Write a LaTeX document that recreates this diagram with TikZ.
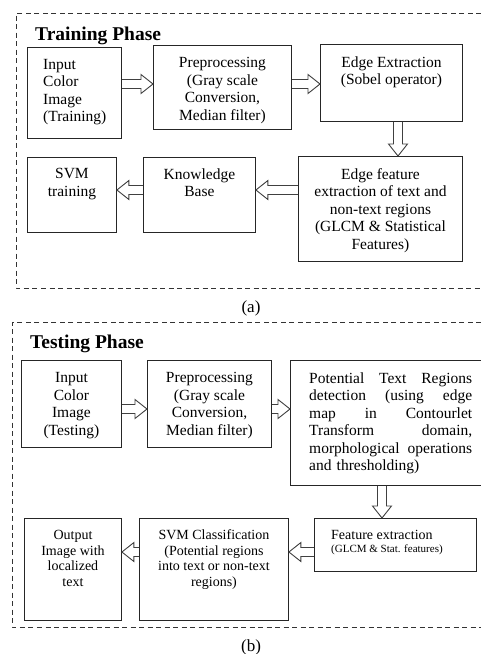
\documentclass[tikz,border=0pt]{standalone}
\usepackage{fontspec}
\setmainfont{Liberation Serif}
\usetikzlibrary{positioning, calc}
\tikzset{
  % Box styles
  procbox/.style={rectangle, draw=black!85, line width=0.9pt, anchor=north west, inner sep=0pt},
  boxtext/.style={inner sep=0pt, align=center, font=\fontsize{15.5}{17.5}\selectfont},
  smalltext/.style={inner sep=0pt, align=center, font=\fontsize{14}{15.5}\selectfont},
  phasetitle/.style={anchor=base west, inner sep=0pt, font=\bfseries\fontsize{19.5}{22}\selectfont},
  captiontext/.style={anchor=base, inner sep=0pt, font=\fontsize{17}{20}\selectfont},
  % Frame and arrow styles
  phaseframe/.style={draw=black!80, line width=0.8pt, dash pattern=on 5pt off 3.5pt},
  hollowarrow/.style={draw=black!75, line width=0.9pt, to path={
    ($(\tikztostart)!4.5pt!90:(\tikztotarget)$)
    -- ($(\tikztotarget)!12pt!(\tikztostart)!4.5pt!-90:(\tikztostart)$)
    -- ($(\tikztotarget)!12pt!(\tikztostart)!9.5pt!-90:(\tikztostart)$)
    -- (\tikztotarget)
    -- ($(\tikztotarget)!12pt!(\tikztostart)!9.5pt!90:(\tikztostart)$)
    -- ($(\tikztotarget)!12pt!(\tikztostart)!4.5pt!90:(\tikztostart)$)
    -- ($(\tikztostart)!4.5pt!-90:(\tikztotarget)$) \tikztonodes}}
}

\begin{document}
\begin{tikzpicture}[x=1pt, y=-1pt]
  \useasboundingbox (0,0) rectangle (481,654);
  \clip (0,0) rectangle (481,654);
  \fill[white] (0,0) rectangle (481,654);

  % Training phase
  \draw[phaseframe] (481,13) -- (16,13) -- (16,288) -- (481,288);
  \node[phasetitle] (trtitle) at (35,40) {Training Phase};

  \node[procbox, minimum width=94pt, minimum height=91pt] (trin) at (27,47) {};
  \node[procbox, minimum width=138pt, minimum height=84pt] (trpre) at (153,45) {};
  \node[procbox, minimum width=142pt, minimum height=77pt] (tredge) at (320,44) {};
  \node[procbox, minimum width=89pt, minimum height=75pt] (trsvm) at (27,157) {};
  \node[procbox, minimum width=112pt, minimum height=75pt] (trkb) at (143,157) {};
  \node[procbox, minimum width=164pt, minimum height=105pt] (trfeat) at (298,156) {};

  \node[boxtext, align=left, below right=12pt and 16pt of trin.north west] (trintext) {Input\\Color\\Image\\(Training)};
  \node[boxtext, below=12.5pt of trpre.north] (trpretext) {Preprocessing\\(Gray scale\\Conversion,\\Median filter)};
  \node[boxtext, below=12.5pt of tredge.north] (tredgetext) {Edge Extraction\\(Sobel operator)};
  \node[boxtext, below=11.5pt of trsvm.north] (trsvmtext) {SVM\\training};
  \node[boxtext, below=11.5pt of trkb.north] (trkbtext) {Knowledge\\Base};
  \node[boxtext, below=12pt of trfeat.north] (trfeattext) {Edge feature\\extraction of text and\\non-text regions\\(GLCM \& Statistical\\Features)};

  \coordinate (trrowa) at (0,84);
  \coordinate (trrowb) at (0,190);
  \coordinate (trdown) at (398,0);
  \draw[hollowarrow] (trin.east |- trrowa) to (trpre.west |- trrowa);
  \draw[hollowarrow] (trpre.east |- trrowa) to (tredge.west |- trrowa);
  \draw[hollowarrow] (tredge.south -| trdown) to (trfeat.north -| trdown);
  \draw[hollowarrow] (trfeat.west |- trrowb) to (trkb.east |- trrowb);
  \draw[hollowarrow] (trkb.west |- trrowb) to (trsvm.east |- trrowb);

  \node[captiontext] (capa) at (251,312) {(a)};

  % Testing phase
  \draw[phaseframe] (481,322) -- (12,322) -- (12,627) -- (481,627);
  \node[phasetitle] (tetitle) at (30,348) {Testing Phase};

  \node[procbox, minimum width=100pt, minimum height=87pt] (tein) at (21,360) {};
  \node[procbox, minimum width=124pt, minimum height=87pt] (tepre) at (147,360) {};
  \node[procbox, minimum width=196pt, minimum height=125pt] (tept) at (290,360) {};
  \node[procbox, minimum width=97pt, minimum height=102pt] (teout) at (24,518) {};
  \node[procbox, minimum width=149pt, minimum height=102pt] (tesvm) at (139,518) {};
  \node[procbox, minimum width=162pt, minimum height=53pt] (tefeat) at (314,518) {};

  \node[boxtext, below=12.5pt of tein.north] (teintext) {Input\\Color\\Image\\(Testing)};
  \node[boxtext, below=12.5pt of tepre.north] (tepretext) {Preprocessing\\(Gray scale\\Conversion,\\Median filter)};
  \node[boxtext, align=left, text width=163pt, below right=12.4pt and 19pt of tept.north west] (tepttext)
    {Potential\hfill Text\hfill Regions\\detection\hfill (using\hfill edge\\map\hfill in\hfill Contourlet\\Transform\hfill domain,\\morphological\hfill operations\\and thresholding)};
  \node[smalltext, below=12.5pt of teout.north] (teouttext) {Output\\Image with\\localized\\text};
  \node[smalltext, below=11.5pt of tesvm.north] (tesvmtext) {SVM Classification\\(Potential regions\\into text or non-text\\regions)};
  \node[smalltext, align=left, font=\fontsize{14}{13}\selectfont, below right=12.5pt and 17pt of tefeat.north west] (tefeattext)
    {Feature extraction\\{\fontsize{11}{13}\selectfont(GLCM \& Stat. features)}};

  \coordinate (terowa) at (0,409);
  \coordinate (terowb) at (0,552);
  \coordinate (tedown) at (382,0);
  \draw[hollowarrow] (tein.east |- terowa) to (tepre.west |- terowa);
  \draw[hollowarrow] (tepre.east |- terowa) to (tept.west |- terowa);
  \draw[hollowarrow] (tept.south -| tedown) to (tefeat.north -| tedown);
  \draw[hollowarrow] (tefeat.west |- terowb) to (tesvm.east |- terowb);
  \draw[hollowarrow] (tesvm.west |- terowb) to (teout.east |- terowb);

  \node[captiontext] (capb) at (251,651) {(b)};
\end{tikzpicture}
\end{document}
